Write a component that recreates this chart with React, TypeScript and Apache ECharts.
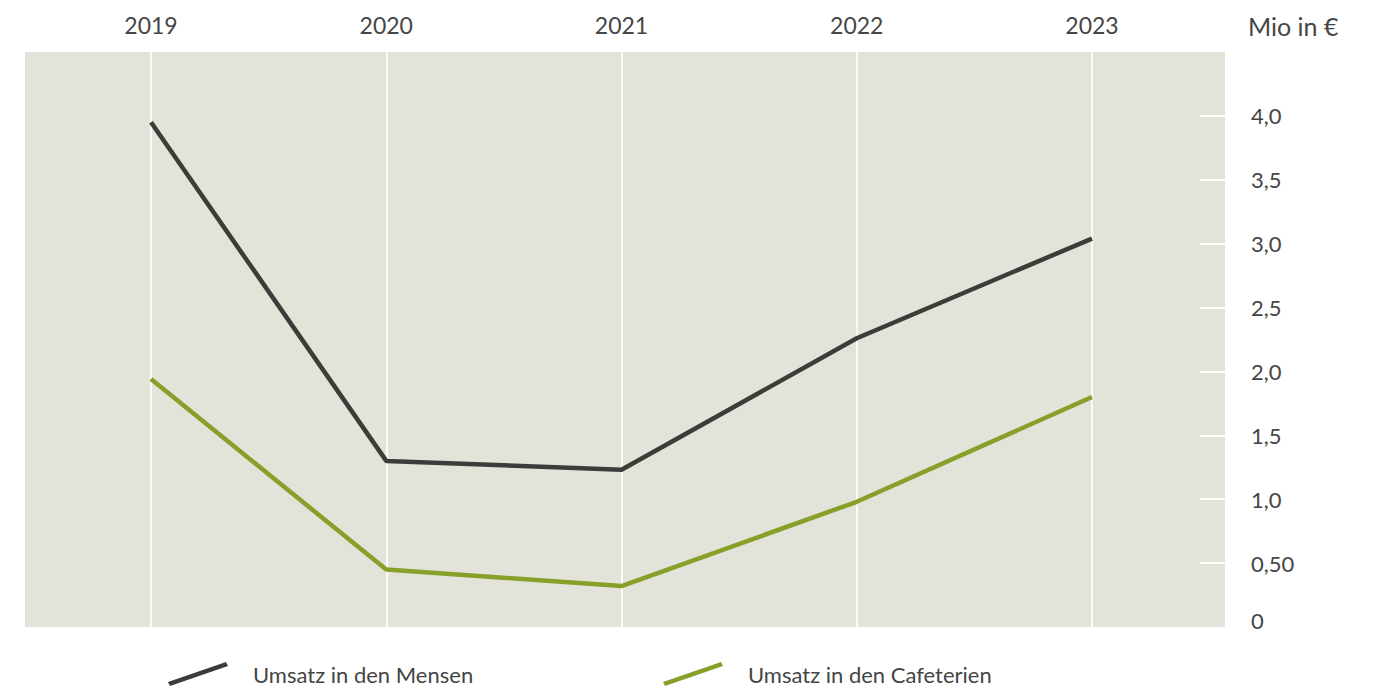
import React, { useEffect, useRef } from "react";
import * as echarts from "echarts";

const years = ["2019", "2020", "2021", "2022", "2023"];
const mensen = [3.95, 1.3, 1.23, 2.26, 3.04];
const cafeterien = [1.94, 0.45, 0.32, 0.98, 1.8];
const seriesNames = ["Umsatz in den Mensen", "Umsatz in den Cafeterien"];
const unitLabel = "Mio in €";
const tickSteps = ["0", "0.5", "1.0", "1.5", "2.0", "2.5", "3.0", "3.5", "4.0", "4.5"];

const FONT = "Lato";
const TEXT = "#454545";
const DARK = "#3c3c3a";
const GREEN = "#86a02a";
const BG = "#e3e3da";
const LEGEND_ICON = "path://M0,20 L58,0 L60,4 L2,24 Z";

function yLabel(v: number): string {
  if (v === 0) return "{z|0}";
  if (v === 0.5) return "0,50";
  if (v > 4.01) return "";
  return v.toFixed(1).replace(".", ",");
}

const legendBase = {
  icon: LEGEND_ICON,
  itemWidth: 60,
  itemHeight: 24,
  selectedMode: false,
  top: 657,
  textStyle: { fontFamily: FONT, fontSize: 22, color: TEXT, padding: [30, 0, 0, 20] },
};

export default function App() {
  const ref = useRef<HTMLDivElement>(null);
  useEffect(() => {
    if (!ref.current) return;
    const chart = echarts.init(ref.current, undefined, { renderer: "svg" });
    chart.setOption({
      animation: false,
      backgroundColor: "#ffffff",
      textStyle: { fontFamily: FONT },
      title: {
        text: unitLabel,
        left: 1243,
        top: 8,
        textStyle: { fontFamily: FONT, fontSize: 25, fontWeight: "normal", color: TEXT },
      },
      graphic: [
        {
          type: "rect",
          z: -10,
          silent: true,
          shape: { x: 25, y: 52, width: 1200, height: 575 },
          style: { fill: BG },
        },
      ],
      legend: [
        { ...legendBase, data: [seriesNames[0]], left: 163 },
        { ...legendBase, data: [seriesNames[1]], left: 658 },
      ],
      grid: [
        { left: 151, right: 291, top: 52, bottom: 66 },
        { left: 1200, right: 158, top: 52, bottom: 66 },
      ],
      xAxis: [
        {
          type: "category",
          gridIndex: 0,
          data: years,
          position: "top",
          boundaryGap: false,
          axisLine: { show: false },
          axisTick: { show: false },
          axisLabel: { fontFamily: FONT, fontSize: 23, color: TEXT, margin: 16 },
          splitLine: { show: true, lineStyle: { color: "#fbfbf7", width: 2 } },
        },
        {
          type: "value",
          gridIndex: 1,
          show: false,
          min: 0,
          max: 1,
        },
      ],
      yAxis: [
        {
          type: "value",
          gridIndex: 0,
          position: "right",
          offset: 134,
          min: 0,
          max: 4.5,
          interval: 0.5,
          axisLine: { show: false },
          axisTick: { show: false },
          splitLine: { show: false },
          axisLabel: {
            fontFamily: FONT,
            fontSize: 22,
            color: TEXT,
            margin: 25,
            align: "left",
            formatter: yLabel,
            rich: { z: { fontFamily: FONT, fontSize: 22, color: TEXT, padding: [0, 0, 14, 0] } },
          },
        },
        {
          type: "category",
          gridIndex: 1,
          data: tickSteps,
          boundaryGap: false,
          axisLine: { show: false },
          axisTick: { show: false },
          axisLabel: { show: false },
          splitLine: {
            show: true,
            interval: (i: number) => i > 0 && i < tickSteps.length - 1,
            lineStyle: { color: "#ffffff", width: 2 },
          },
        },
      ],
      series: [
        {
          name: seriesNames[0],
          type: "line",
          data: mensen,
          color: DARK,
          symbol: "none",
          lineStyle: { color: DARK, width: 4.5 },
        },
        {
          name: seriesNames[1],
          type: "line",
          data: cafeterien,
          color: GREEN,
          symbol: "none",
          lineStyle: { color: GREEN, width: 4.5 },
        },
      ],
    });
    return () => chart.dispose();
  }, []);
  return (
    <div
      ref={ref}
      style={{ position: "fixed", left: 0, top: 0, width: 1383, height: 693 }}
    />
  );
}
